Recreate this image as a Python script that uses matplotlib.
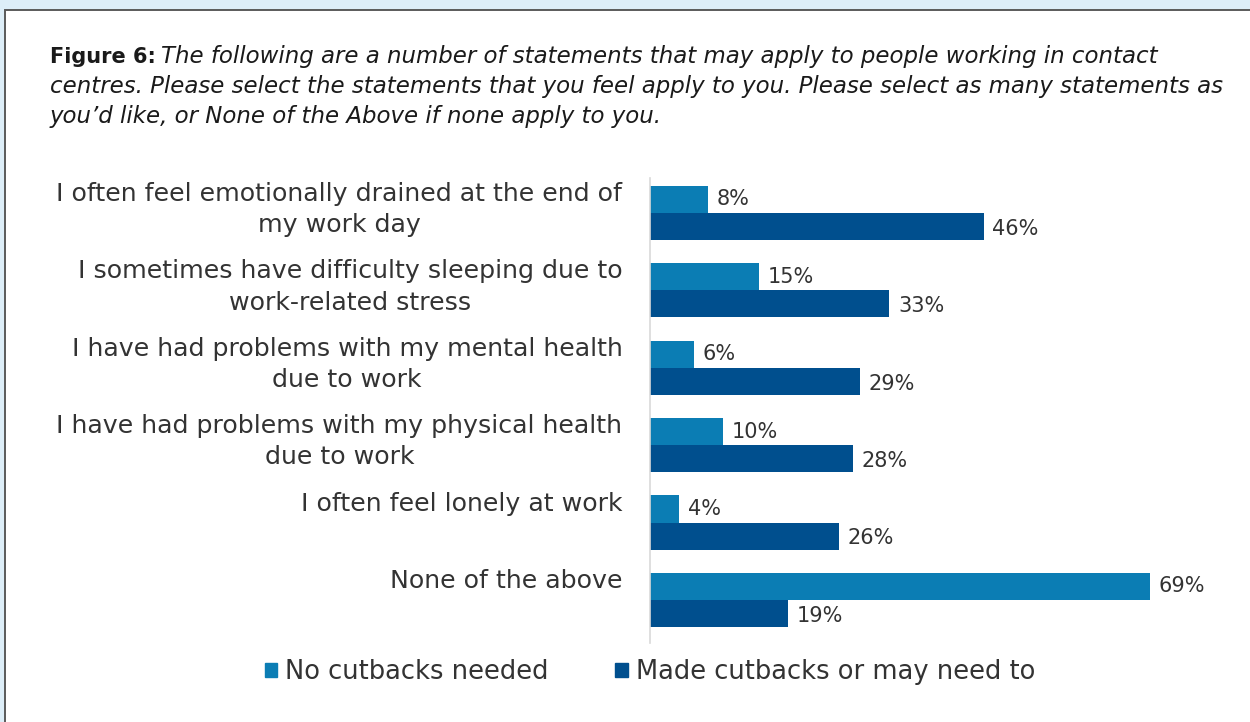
import matplotlib.pyplot as plt
from matplotlib.patches import Patch, Rectangle

# Survey results, % of respondents
statements = [
    "I often feel emotionally drained at the end of\nmy work day",
    "I sometimes have difficulty sleeping due to\nwork-related stress",
    "I have had problems with my mental health\ndue to work",
    "I have had problems with my physical health\ndue to work",
    "I often feel lonely at work",
    "None of the above",
]
no_cutbacks = [8, 15, 6, 10, 4, 69]
made_cutbacks = [46, 33, 29, 28, 26, 19]
series_names = ["No cutbacks needed", "Made cutbacks or may need to"]

light_blue = "#0B7DB4"
dark_blue = "#004F8E"
text_grey = "#333333"

plt.rcParams['font.family'] = ['DejaVu Sans']

W, H = 1250, 722
fig = plt.figure(figsize=(W / 100, H / 100), dpi=100)
fig.patch.set_facecolor("#DDEEF8")

# white panel with a thin frame on the left and top
panel = Rectangle((4.5 / W, -0.1), 1.2, 1 - 9.5 / H + 0.1, transform=fig.transFigure,
                  facecolor="white", edgecolor="#5a5a5a", linewidth=1.4, zorder=-10)
fig.patches.append(panel)

# title block
fig.text(50 / W, 1 - 57 / H, "Figure 6:", fontsize=15, fontweight="bold",
         color="#1a1a1a", va="center", ha="left")
title_lines = [
    (161, 57, "The following are a number of statements that may apply to people working in contact"),
    (50, 87, "centres. Please select the statements that you feel apply to you. Please select as many statements as"),
    (50, 117, "you\u2019d like, or None of the Above if none apply to you."),
]
for x, y, line in title_lines:
    fig.text(x / W, 1 - y / H, line, fontsize=16.5, fontstyle="italic",
             color="#1a1a1a", va="center", ha="left")

ax = fig.add_axes([650 / W, 1 - 642.6 / H, 580 / W, (642.6 - 178) / H])
ax.set_xlim(0, 80)
ax.set_ylim(5.55, -0.45)

bar_h = 0.35
pos = list(range(len(statements)))
ax.barh([p - bar_h / 2 for p in pos], no_cutbacks, height=bar_h,
        color=light_blue, align="center")
ax.barh([p + bar_h / 2 for p in pos], made_cutbacks, height=bar_h,
        color=dark_blue, align="center")

for p, a, b in zip(pos, no_cutbacks, made_cutbacks):
    ax.text(a + 1.2, p - bar_h / 2, f"{a}%", va="center", ha="left",
            fontsize=15, color=text_grey)
    ax.text(b + 1.2, p + bar_h / 2 + 0.03, f"{b}%", va="center", ha="left",
            fontsize=15, color=text_grey)
    ax.text(-3.8, p - bar_h - 0.05, statements[p], va="top", ha="right",
            multialignment="center", fontsize=18.2, color=text_grey,
            linespacing=1.38, clip_on=False)

for side in ["top", "right", "bottom"]:
    ax.spines[side].set_visible(False)
ax.spines["left"].set_color("#d9d9d9")
ax.spines["left"].set_linewidth(1.2)
ax.set_xticks([])
ax.set_yticks([])
ax.patch.set_alpha(0)

handles = [Patch(color=light_blue), Patch(color=dark_blue)]
fig.legend(handles, series_names, loc="center", bbox_to_anchor=(650 / W, 1 - 672 / H),
           ncol=2, frameon=False, fontsize=18.5, handlelength=0.5, handleheight=0.5,
           handletextpad=0.3, columnspacing=2.6, labelcolor=text_grey)

fig.savefig("out.png", dpi=100, facecolor=fig.get_facecolor())
